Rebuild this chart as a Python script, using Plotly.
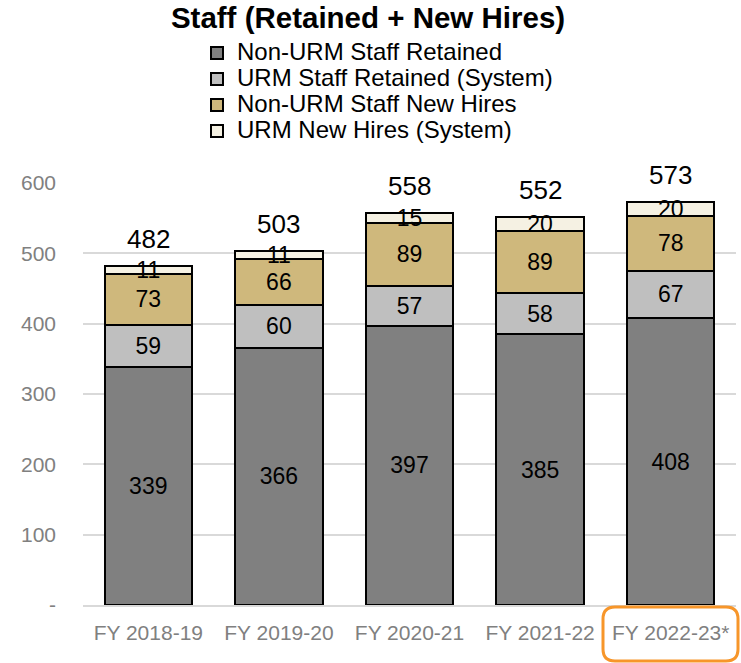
import plotly.graph_objects as go

categories = ["FY 2018-19", "FY 2019-20", "FY 2020-21", "FY 2021-22", "FY 2022-23*"]
non_urm_retained = [339, 366, 397, 385, 408]
urm_retained = [59, 60, 57, 58, 67]
non_urm_new = [73, 66, 89, 89, 78]
urm_new = [11, 11, 15, 20, 20]
totals = [482, 503, 558, 552, 573]

series = [
    ("Non-URM Staff Retained", non_urm_retained, "#808080"),
    ("URM Staff Retained (System)", urm_retained, "#bfbfbf"),
    ("Non-URM Staff New Hires", non_urm_new, "#cfb87c"),
    ("URM New Hires (System)", urm_new, "#f5f1e3"),
]

FONT = "Liberation Sans, Arial, Helvetica, sans-serif"

W, H = 741, 663
L, R, T, B = 83, 5, 183, 58
PW, PH = W - L - R, H - T - B

fig = go.Figure()
for name, vals, color in series:
    fig.add_trace(go.Bar(
        x=categories, y=vals,
        name=f'<span style="font-size:24px">{name}</span>',
        marker=dict(color=color, line=dict(color="black", width=2)),
        text=[str(v) for v in vals], textposition="inside",
        insidetextanchor="middle", textangle=0, constraintext="none",
        textfont=dict(family=FONT, size=23, color="black"),
        cliponaxis=False,
    ))

for c, t in zip(categories, totals):
    fig.add_annotation(x=c, y=t, text=str(t), showarrow=False,
                       yanchor="bottom", yshift=10,
                       font=dict(family=FONT, size=26, color="black"))

# highlight box around last category label
x0 = (603 - L) / PW; x1 = (738 - L) / PW
y0 = (T + PH - 661) / PH; y1 = (T + PH - 607) / PH
rx = 12 / PW; ry = 12 / PH
path = (f"M {x0+rx},{y1} L {x1-rx},{y1} Q {x1},{y1} {x1},{y1-ry} "
        f"L {x1},{y0+ry} Q {x1},{y0} {x1-rx},{y0} L {x0+rx},{y0} "
        f"Q {x0},{y0} {x0},{y0+ry} L {x0},{y1-ry} Q {x0},{y1} {x0+rx},{y1} Z")
fig.add_shape(type="path", xref="paper", yref="paper", path=path,
              line=dict(color="#f7962a", width=3), fillcolor="rgba(0,0,0,0)")

fig.update_layout(
    width=W, height=H,
    barmode="stack", bargap=0.33,
    plot_bgcolor="white", paper_bgcolor="white",
    margin=dict(l=L, r=R, t=T, b=B),
    title=dict(text="<b>Staff (Retained + New Hires)</b>", x=368 / W, xanchor="center",
               y=1 - 18 / H, yanchor="middle", yref="container",
               font=dict(family=FONT, size=29.5, color="black")),
    legend=dict(x=(197 - L) / PW, xanchor="left", y=1 + (T - 35) / PH, yanchor="top",
                traceorder="normal", font=dict(family=FONT, size=17.7, color="black"),
                bgcolor="rgba(0,0,0,0)", tracegroupgap=0),
    font=dict(family=FONT),
    showlegend=True,
)
fig.update_xaxes(showgrid=False, showline=True, linecolor="#d9d9d9", linewidth=1.5,
                 tickfont=dict(family=FONT, size=21, color="#808080"),
                 ticks="", ticklabelstandoff=8)
fig.update_yaxes(range=[0, 600], tickvals=[0, 100, 200, 300, 400, 500, 600],
                 ticktext=["-", "100", "200", "300", "400", "500", "600"],
                 showgrid=True, gridcolor="#d9d9d9", gridwidth=1.5, zeroline=False,
                 tickfont=dict(family=FONT, size=21, color="#808080"),
                 ticks="", ticklabelstandoff=26)

fig.write_html("out.html", config={"displayModeBar": False},
               post_script="document.body.style.margin='0';document.body.style.overflow='hidden';")
